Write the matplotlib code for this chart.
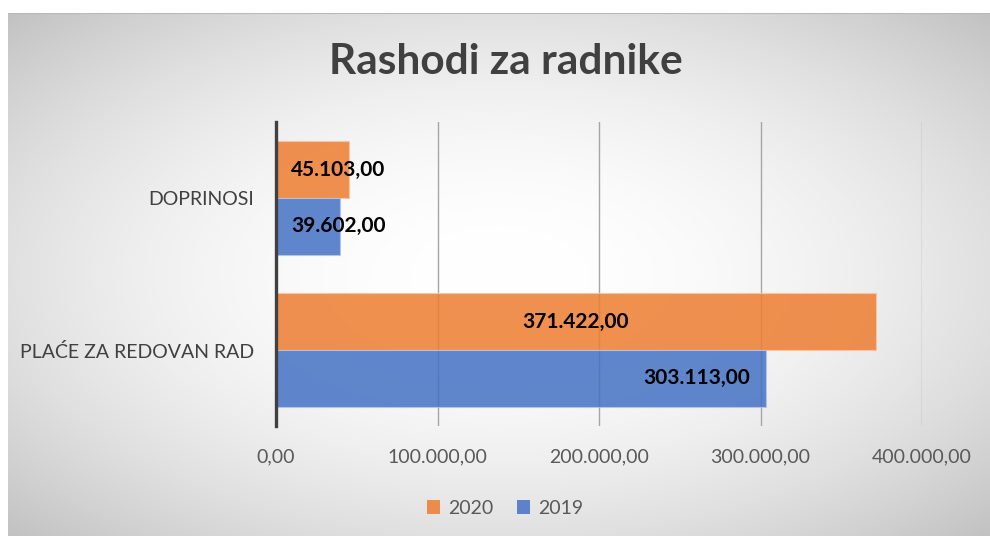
import numpy as np
import matplotlib
matplotlib.use("Agg")
import matplotlib.pyplot as plt
from matplotlib.patches import Patch

# data
categories = ["PLAĆE ZA REDOVAN RAD", "DOPRINOSI"]
years = ["2020", "2019"]
values_2020 = [371422.00, 45103.00]
values_2019 = [303113.00, 39602.00]
label_pos_2020 = ["center", "base"]
label_pos_2019 = ["end", "base"]
xticks = [0, 100000, 200000, 300000, 400000]

c2020 = "#ED7D31"
c2019 = "#4472C4"


def fmt(v):
    s = f"{v:,.2f}"
    return s.replace(",", "X").replace(".", ",").replace("X", ".")


plt.rcParams["font.family"] = ["Lato", "DejaVu Sans"]

fig = plt.figure(figsize=(9.9, 5.36), dpi=100)
fig.patch.set_facecolor("white")

# radial gradient background of the chart area
bg = fig.add_axes([8 / 990, 0, 1 - 8 / 990, 1 - 13 / 536])
gx = np.linspace(-1, 1, 400)
gy = np.linspace(-1, 1, 220)
X, Y = np.meshgrid(gx, gy)
r2 = X ** 2 + Y ** 2
v = 1 - 0.12 * r2
img = np.dstack([v, v, v])
bg.imshow(img, aspect="auto", extent=[0, 1, 0, 1], interpolation="bilinear")
bg.plot([0, 1], [1, 1], color="#b8b8b8", lw=1.5, transform=bg.transAxes)
bg.set_axis_off()

ax = fig.add_axes([276 / 990, 1 - 426 / 536, (922 - 276) / 990, (426 - 122) / 536])
ax.patch.set_alpha(0)

h = 0.373
y = np.arange(len(categories))
b20 = ax.barh(y + h / 2, values_2020, height=h, color=c2020, alpha=0.85,
              edgecolor="#f7c6a6", linewidth=0.8, label="2020", zorder=3)
b19 = ax.barh(y - h / 2, values_2019, height=h, color=c2019, alpha=0.85,
              edgecolor="#b4c7e7", linewidth=0.8, label="2019", zorder=3)


def put_labels(bars, vals, modes):
    for bar, val, mode in zip(bars, vals, modes):
        yc = bar.get_y() + bar.get_height() / 2
        if mode == "center":
            ax.text(val / 2, yc, fmt(val), ha="center", va="center",
                    fontsize=15, fontweight="bold", color="black", zorder=5)
        elif mode == "end":
            ax.annotate(fmt(val), (val, yc), xytext=(-11, 0),
                        textcoords="offset points", ha="right", va="center",
                        fontsize=15, fontweight="bold", color="black", zorder=5)
        else:
            ax.annotate(fmt(val), (0, yc), xytext=(11, 0),
                        textcoords="offset points", ha="left", va="center",
                        fontsize=15, fontweight="bold", color="black", zorder=5)


put_labels(b20, values_2020, label_pos_2020)
put_labels(b19, values_2019, label_pos_2019)

ax.set_xlim(0, 400000)
ax.set_ylim(-0.5, 1.5)
ax.set_xticks(xticks)
ax.set_xticklabels([fmt(t) for t in xticks], fontsize=14, color="#595959")
ax.set_yticks(y)
ax.set_yticklabels(categories, fontsize=14, color="#404040")
ax.tick_params(axis="x", length=0, pad=16)
ax.tick_params(axis="y", length=0, pad=16)
ax.grid(axis="x", color="#a6a6a6", linewidth=1, zorder=0)
for s in ["top", "right", "bottom"]:
    ax.spines[s].set_visible(False)
ax.spines["left"].set_color("#404040")
ax.spines["left"].set_linewidth(2.4)
ax.spines["left"].set_zorder(6)

fig.text(506 / 990, 1 - 62 / 536, "Rashodi za radnike", ha="center", va="center",
         fontsize=30.5, fontweight="bold", color="#404040")

handles = [Patch(facecolor=c2020, alpha=0.85, label="2020"),
           Patch(facecolor=c2019, alpha=0.85, label="2019")]
fig.legend(handles=handles, loc="center", bbox_to_anchor=(505 / 990, 1 - 508 / 536),
           ncol=2, frameon=False, fontsize=14, handlelength=0.7, handleheight=0.7,
           handletextpad=0.4, columnspacing=1.2, labelcolor="#595959")

fig.savefig("out.png", dpi=100)
